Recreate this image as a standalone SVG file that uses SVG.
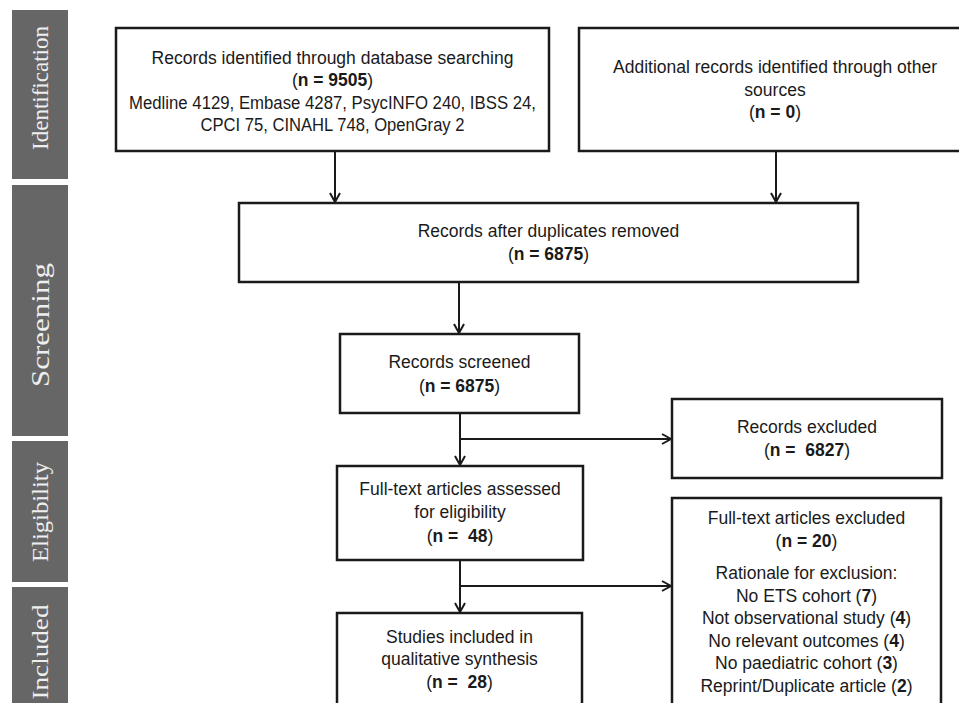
<svg xmlns="http://www.w3.org/2000/svg" width="959" height="703" viewBox="0 0 959 703">
<style>
.box{fill:#fff;stroke:#1a1a1a;stroke-width:2.5}
.t{font-family:"Liberation Sans",Arial,sans-serif;font-size:17.5px;fill:#1a1a1a;text-anchor:middle}
.b{font-weight:bold}
.bar{fill:#666666}
.side{font-family:"Liberation Serif","Times New Roman",serif;font-size:23px;fill:#eeeeee;text-anchor:middle}
.c{stroke:#1a1a1a;stroke-width:2;fill:none}
</style>
<defs>
<marker id="ah" markerUnits="userSpaceOnUse" markerWidth="12" markerHeight="12" refX="10" refY="6" orient="auto">
<path d="M1,1 L10,6 L1,11" fill="none" stroke="#1a1a1a" stroke-width="2"/>
</marker>
</defs>
<rect width="959" height="703" fill="#fff"/>
<g id="sidebar">
<rect class="bar" x="12" y="10" width="56" height="169"/>
<rect class="bar" x="12" y="185" width="56" height="251"/>
<rect class="bar" x="12" y="441" width="56" height="141"/>
<rect class="bar" x="12" y="587" width="56" height="120"/>
<text class="side" transform="translate(48,88) rotate(-90)" textLength="124" lengthAdjust="spacingAndGlyphs">Identification</text>
<text class="side" style="font-size:25px" transform="translate(49,325) rotate(-90)" textLength="124" lengthAdjust="spacingAndGlyphs">Screening</text>
<text class="side" transform="translate(48,512) rotate(-90)" textLength="100" lengthAdjust="spacingAndGlyphs">Eligibility</text>
<text class="side" transform="translate(48,652) rotate(-90)" textLength="95" lengthAdjust="spacingAndGlyphs">Included</text>
</g>
<g id="connectors">
<line class="c" x1="335" y1="151" x2="335" y2="202" marker-end="url(#ah)"/>
<line class="c" x1="776" y1="151" x2="776" y2="202" marker-end="url(#ah)"/>
<line class="c" x1="459" y1="282" x2="459" y2="333" marker-end="url(#ah)"/>
<line class="c" x1="460" y1="413" x2="460" y2="465" marker-end="url(#ah)"/>
<line class="c" x1="460" y1="439" x2="671" y2="439" marker-end="url(#ah)"/>
<line class="c" x1="460" y1="560" x2="460" y2="612" marker-end="url(#ah)"/>
<line class="c" x1="460" y1="586" x2="671" y2="586" marker-end="url(#ah)"/>
</g>
<g id="n1">
<rect class="box" x="116" y="28" width="433" height="123"/>
<text class="t" x="332.5" y="63.5">Records identified through database searching</text>
<text class="t" x="332.5" y="86">(<tspan class="b">n = 9505</tspan>)</text>
<text class="t" x="332.5" y="108.5" textLength="407" lengthAdjust="spacingAndGlyphs">Medline 4129, Embase 4287, PsycINFO 240, IBSS 24,</text>
<text class="t" x="332.5" y="131" textLength="264" lengthAdjust="spacingAndGlyphs">CPCI 75, CINAHL 748, OpenGray 2</text>
</g>
<g id="n2">
<rect class="box" x="579" y="28" width="392" height="123"/>
<text class="t" x="775" y="73">Additional records identified through other</text>
<text class="t" x="775" y="95.5">sources</text>
<text class="t" x="775" y="118">(<tspan class="b">n = 0</tspan>)</text>
</g>
<g id="n3">
<rect class="box" x="239" y="203" width="619" height="79"/>
<text class="t" x="548.5" y="237">Records after duplicates removed</text>
<text class="t" x="548.5" y="260">(<tspan class="b">n = 6875</tspan>)</text>
</g>
<g id="n4">
<rect class="box" x="340" y="334" width="239" height="79"/>
<text class="t" x="459.5" y="368">Records screened</text>
<text class="t" x="459.5" y="392">(<tspan class="b">n = 6875</tspan>)</text>
</g>
<g id="n5">
<rect class="box" x="672" y="399" width="270" height="79"/>
<text class="t" x="807" y="433">Records excluded</text>
<text class="t" x="807" y="456" xml:space="preserve">(<tspan class="b">n =  6827</tspan>)</text>
</g>
<g id="n6">
<rect class="box" x="337" y="466" width="246" height="94"/>
<text class="t" x="460" y="495">Full-text articles assessed</text>
<text class="t" x="460" y="518">for eligibility</text>
<text class="t" x="460" y="542" xml:space="preserve">(<tspan class="b">n =  48</tspan>)</text>
</g>
<g id="n7">
<rect class="box" x="672" y="498" width="269" height="215"/>
<text class="t" x="806.5" y="524">Full-text articles excluded</text>
<text class="t" x="806.5" y="546.5">(<tspan class="b">n = 20</tspan>)</text>
<text class="t" x="806.5" y="579">Rationale for exclusion:</text>
<text class="t" x="806.5" y="601.5">No ETS cohort (<tspan class="b">7</tspan>)</text>
<text class="t" x="806.5" y="624">Not observational study (<tspan class="b">4</tspan>)</text>
<text class="t" x="806.5" y="646.5">No relevant outcomes (<tspan class="b">4</tspan>)</text>
<text class="t" x="806.5" y="669">No paediatric cohort (<tspan class="b">3</tspan>)</text>
<text class="t" x="806.5" y="691.5">Reprint/Duplicate article (<tspan class="b">2</tspan>)</text>
</g>
<g id="n8">
<rect class="box" x="337" y="613" width="245" height="100"/>
<text class="t" x="459.5" y="643">Studies included in</text>
<text class="t" x="459.5" y="665">qualitative synthesis</text>
<text class="t" x="459.5" y="688" xml:space="preserve">(<tspan class="b">n =  28</tspan>)</text>
</g>
</svg>
